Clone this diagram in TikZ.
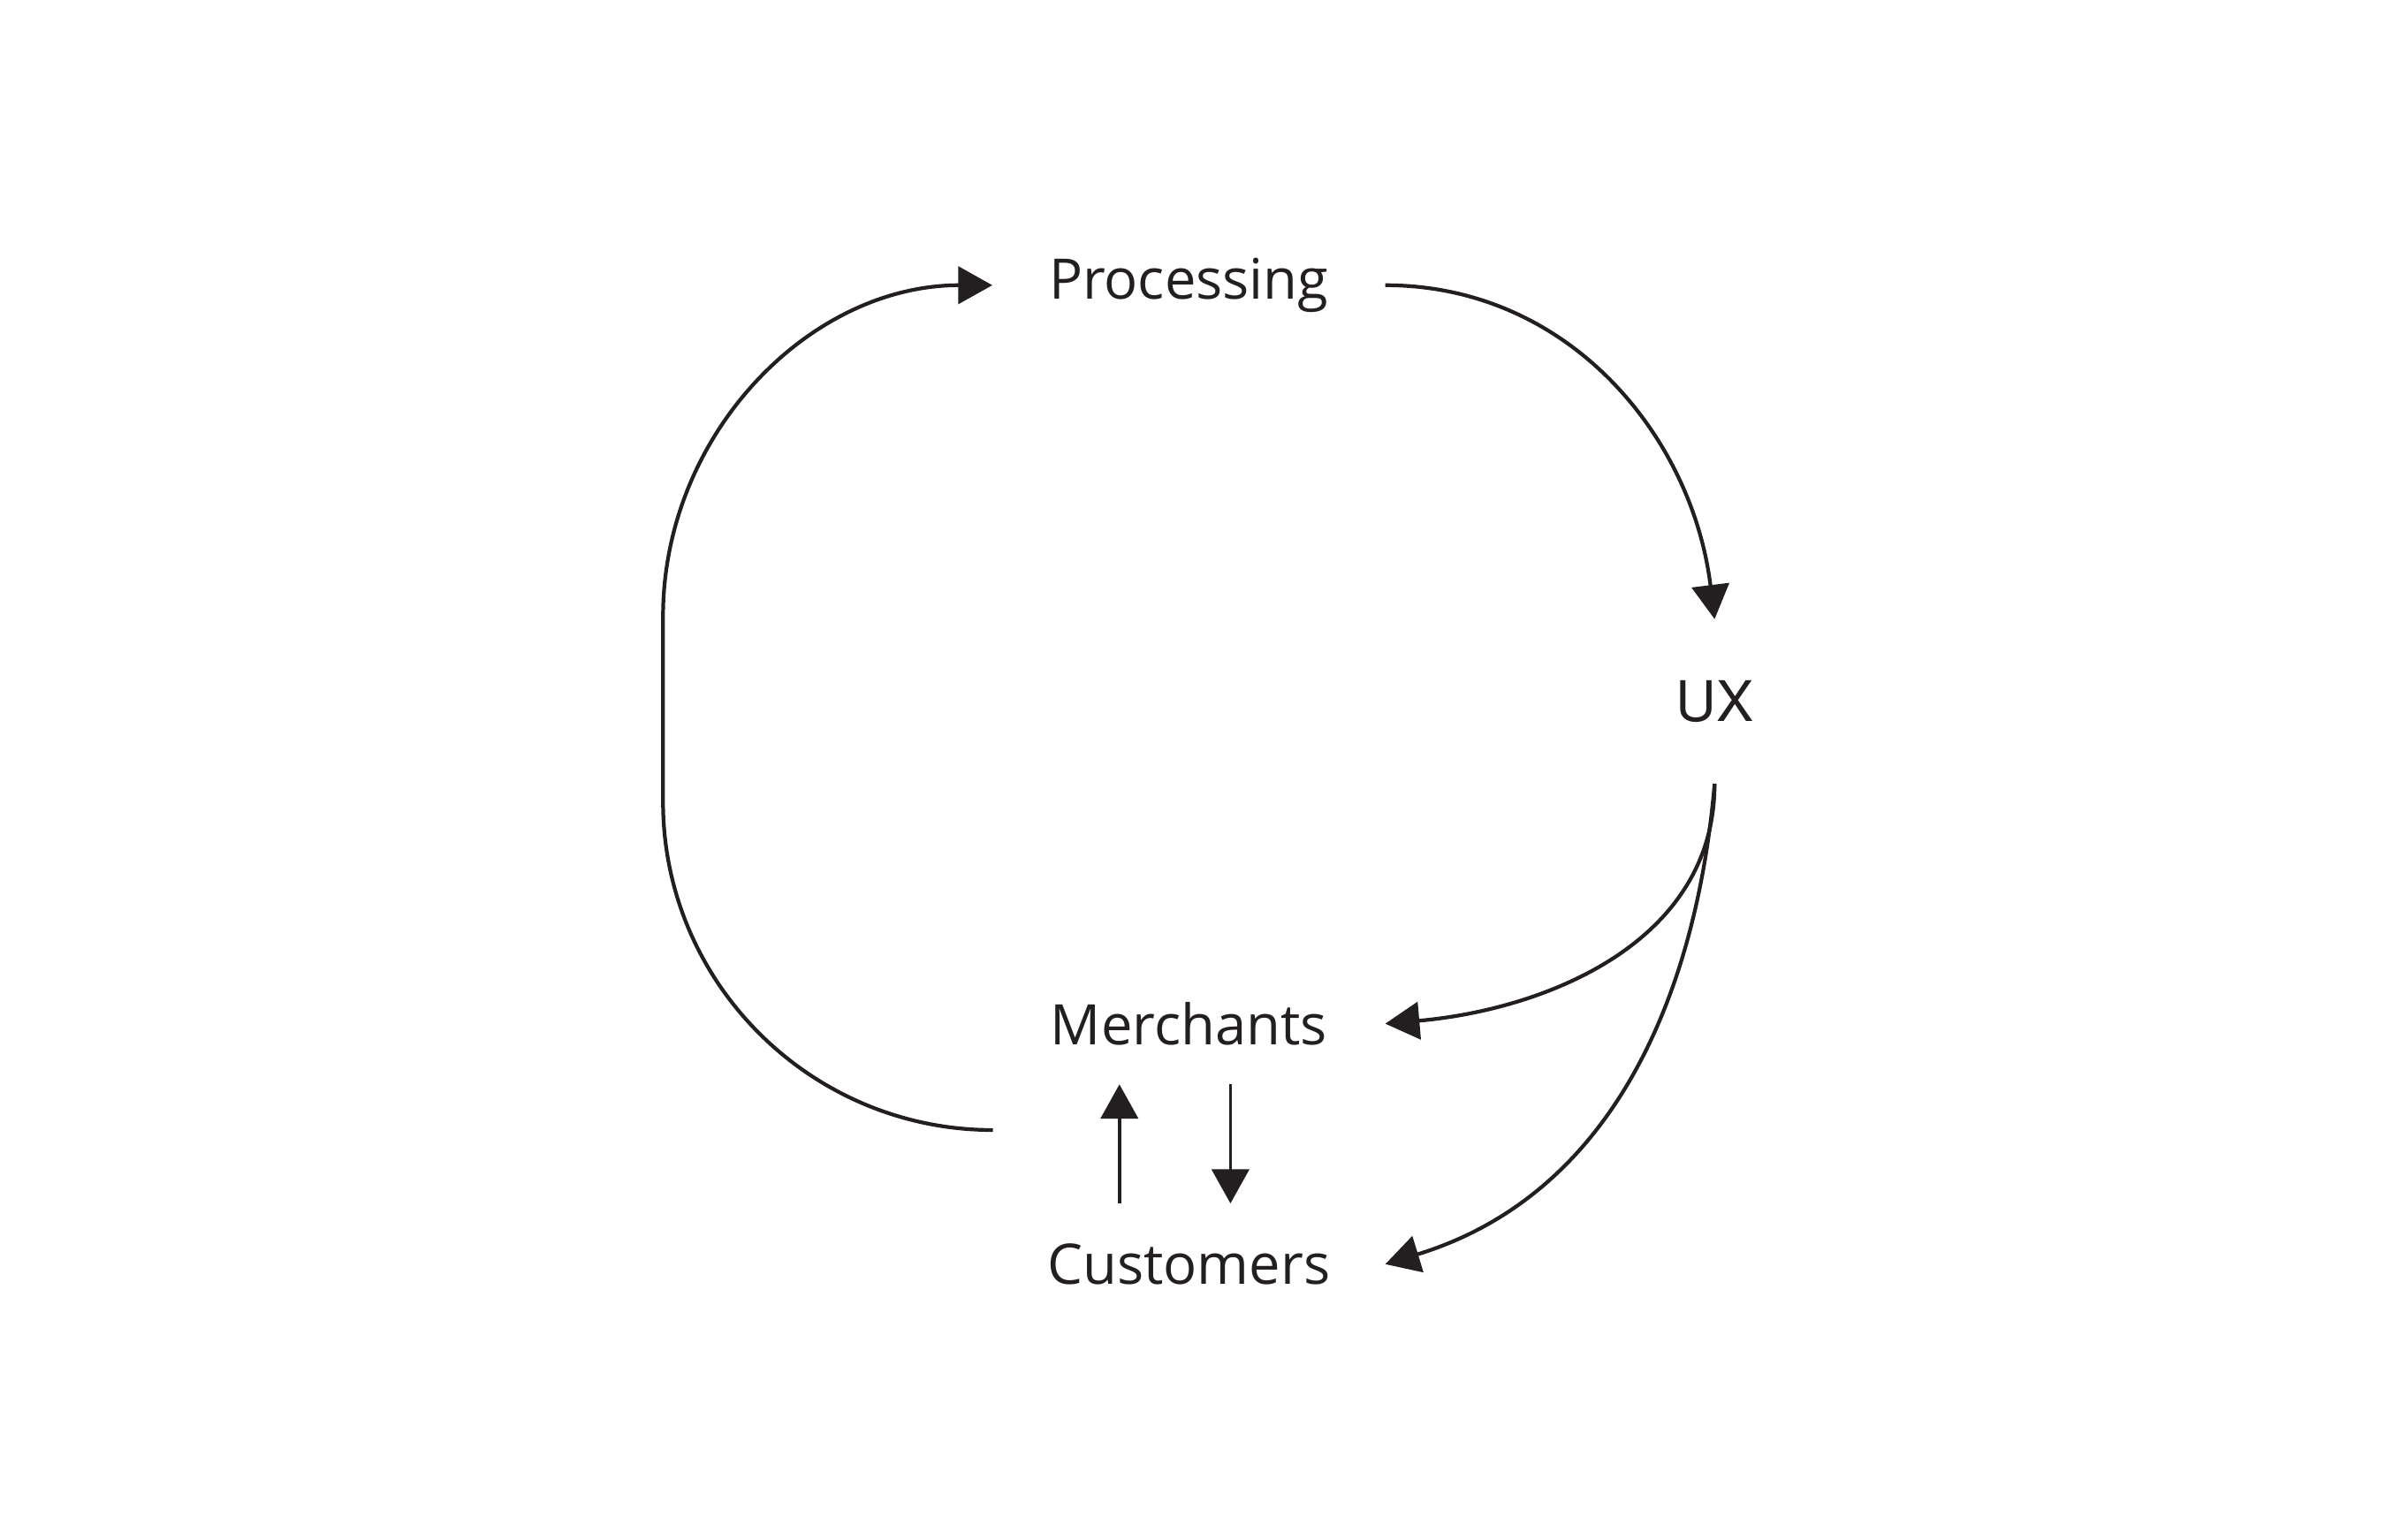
\documentclass[tikz,border=0pt]{standalone}
\usepackage{fontspec}
\setmainfont{Open Sans}
\newfontfamily\uxfont{TeX Gyre Heros}
\usepackage{tikz}
\usetikzlibrary{arrows.meta}
\usetikzlibrary{calc}
\usepackage{xcolor}
\definecolor{ink}{HTML}{231F20}

\begin{document}
\begin{tikzpicture}[x=0.017448cm,y=0.017448cm]
          \useasboundingbox (0,0) rectangle (1552,-998.4);
          \begin{scope}[every node/.style={inner sep=0pt,text=ink,font=\fontsize{18}{22}\selectfont}]
            \node[minimum width=4.43cm,minimum height=1.36cm] (proc) at (771,-185) {Processing};
            \node[minimum height=1.85cm,font=\uxfont\fontsize{18}{22}\selectfont] (ux) at (1112,-455) {UX};
            \node[minimum width=4.43cm,minimum height=1.36cm] (merch) at (771,-664) {Merchants};
            \node[minimum width=4.43cm,minimum height=1.36cm] (cust) at (771,-820) {Customers};
            \coordinate (back) at (644,-733);
            \coordinate (leftlo) at (430,-520);
            \coordinate (lefthi) at (430,-400);
          \end{scope}
          \begin{scope}[every path/.style={->,draw=ink,line width=1.2pt},>={Triangle[length=11pt,width=12pt]}]
            \draw (proc.east) to[out=0,in=97] (ux.north);
            \draw (ux.south) to[out=-90,in=5] (merch.east);
            \draw (ux.south) to[out=-95,in=17] (cust.east);
            \draw (back) to[out=180,in=-90] (leftlo) -- (lefthi) to[out=90,in=180] (proc.west);
            \draw[line width=1pt] ($(cust.north)+(-45,0)$) -- ($(merch.south)+(-45,0)$);
            \draw[line width=1pt] ($(merch.south)+(27,0)$) -- ($(cust.north)+(27,0)$);
          \end{scope}
        \end{tikzpicture}
\end{document}
